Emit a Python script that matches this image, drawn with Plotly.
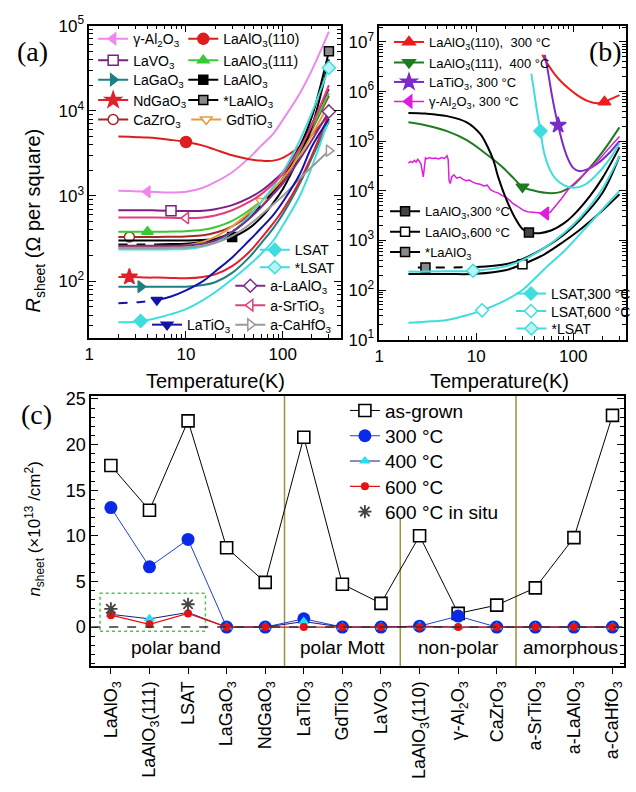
import plotly.graph_objects as go

W, H = 636, 792
SANS = "Liberation Sans"
SERIF = "Liberation Serif"

# ---------------- panel (a): as-grown samples, R_sheet(T) ----------------
T_A = [2, 2.6, 3.4, 4, 5, 7, 10, 15, 20, 30, 45, 60, 80, 100, 150, 200, 300]

R_gAl2O3 = [1150, 1140, 1130, 1120, 1110, 1100, 1120, 1250, 1450, 1900, 2800, 3900, 5400, 7800, 16000, 30000, 85000]
R_LAO110 = [5000, 4950, 4900, 4850, 4750, 4550, 4300, 3900, 3500, 3000, 2700, 2600, 2600, 2800, 3800, 5200, 9000]
R_LaVO3 = [680, 680, 680, 680, 675, 670, 665, 670, 700, 780, 950, 1150, 1500, 1900, 3800, 7000, 18000]
R_LAO111 = [380, 380, 380, 380, 380, 382, 385, 400, 430, 510, 680, 880, 1200, 1600, 3300, 6200, 16000]
R_LaGaO3 = [86, 86, 86, 86, 86, 86, 86, 90, 97, 125, 190, 280, 420, 610, 1400, 2800, 7500]
R_LAO = [300, 300, 300, 300, 300, 300, 300, 305, 310, 330, 420, 560, 830, 1200, 3000, 6500, 40000]
R_NdGaO3 = [112, 112, 111, 110, 110, 109, 108, 112, 120, 150, 220, 320, 480, 680, 1500, 3000, 9000]
R_LAOstar = [270, 270, 270, 270, 270, 272, 275, 290, 310, 380, 550, 780, 1150, 1600, 3800, 8500, 50000]
R_CaZrO3 = [330, 330, 330, 330, 330, 332, 335, 345, 370, 440, 600, 800, 1100, 1500, 3200, 6000, 15000]
R_GdTiO3 = [255, 255, 255, 255, 255, 258, 262, 290, 330, 440, 640, 870, 1200, 1600, 3000, 5200, 12000]
R_LSAT = [33, 33, 34, 35, 37, 41, 47, 60, 74, 105, 155, 210, 300, 450, 1000, 2200, 8000]
R_LSATstar = [235, 235, 235, 235, 235, 236, 238, 255, 285, 380, 580, 850, 1300, 1900, 4500, 9500, 32000]
R_aLAO = [260, 260, 260, 260, 260, 260, 262, 275, 300, 380, 540, 740, 1050, 1400, 2700, 4500, 9800]
R_aSTO = [560, 560, 560, 560, 558, 555, 550, 560, 590, 680, 850, 1050, 1400, 1800, 3600, 6800, 20000]
R_LaTiO3 = [55, 56, 57, 58, 60, 66, 78, 100, 130, 190, 300, 420, 600, 850, 1800, 3800, 8000]
R_aCaHfO3 = [245, 245, 245, 245, 245, 246, 248, 260, 280, 340, 460, 600, 800, 1000, 1600, 2200, 3400]

# ---------------- panel (b): annealed samples ----------------
T_b_LAO110 = [48, 52, 58, 65, 75, 90, 110, 140, 180, 210, 260, 300]
R_b_LAO110 = [5.5e6, 4.2e6, 3.0e6, 2.2e6, 1.6e6, 1.15e6, 8.5e5, 6.5e5, 5.8e5, 6.2e5, 7.5e5, 8.5e5]

T_b_LAO111 = [2, 3, 5, 8, 12, 18, 25, 30, 40, 55, 75, 100, 150, 200, 300]
R_b_LAO111 = [2.4e5, 2.1e5, 1.6e5, 1.05e5, 6.0e4, 3.2e4, 1.7e4, 1.2e4, 1.0e4, 9.0e3, 9.5e3, 1.3e4, 3.0e4, 6.0e4, 1.9e5]

T_b_LaTiO3 = [51, 55, 60, 65, 70, 78, 88, 100, 115, 140, 180, 240, 300]
R_b_LaTiO3 = [5.5e6, 2.5e6, 9e5, 4e5, 2.1e5, 9e4, 4.5e4, 2.9e4, 2.5e4, 2.7e4, 3.6e4, 6.0e4, 1.0e5]

T_b_gAl = [2.0, 2.1, 2.2, 2.3, 2.4, 2.5, 2.6, 2.7, 2.8, 2.85, 2.9, 3.0, 3.1, 3.3, 3.5, 3.8, 4.1, 4.4,
           4.7, 5.0, 5.15, 5.25, 5.4, 5.6, 5.9, 6.3, 6.8, 7.3, 7.9, 8.5, 9.2, 10, 11, 12, 13, 14, 15.5,
           17, 18.5, 20, 22, 24, 26, 28, 31, 34, 38, 42, 47, 52, 58, 66, 76, 90, 110, 140, 180, 230, 300]
R_b_gAl = [3.6e4, 3.9e4, 3.7e4, 4.1e4, 3.8e4, 4.3e4, 3.9e4, 3.4e4, 2.3e4, 1.9e4, 2.6e4, 4.6e4, 4.4e4,
           4.7e4, 4.5e4, 4.6e4, 4.4e4, 4.7e4, 4.5e4, 5.1e4, 4.2e4, 1.6e4, 1.4e4, 1.9e4, 2.1e4, 1.8e4,
           1.9e4, 1.7e4, 1.6e4, 1.65e4, 1.5e4, 1.4e4, 1.35e4, 1.25e4, 1.3e4, 1.05e4, 9.5e3, 9.0e3,
           8.0e3, 7.6e3, 6.5e3, 5.5e3, 5.0e3, 4.6e3, 4.0e3, 3.8e3, 3.7e3, 3.6e3, 3.5e3, 3.5e3, 3.7e3,
           5.0e3, 7.0e3, 1.1e4, 1.6e4, 2.5e4, 4.0e4, 7.0e4, 1.25e5]

T_b_LAO300 = [2, 3, 5, 8, 11, 13, 15, 17, 20, 25, 30, 35, 45, 60, 80, 100, 150, 200, 300]
R_b_LAO300 = [3.7e5, 3.6e5, 3.2e5, 2.4e5, 1.4e5, 8.0e4, 4.2e4, 1.8e4, 7.5e3, 2.9e3, 1.7e3, 1.45e3,
              1.4e3, 1.6e3, 2.2e3, 3.2e3, 8.0e3, 1.8e4, 7.5e4]

T_b_LAO600 = [2, 3, 5, 10, 20, 30, 50, 80, 120, 200, 300]
R_b_LAO600 = [210, 210, 210, 212, 250, 330, 520, 950, 1700, 4000, 8500]

T_b_LAOstar = [2.5, 3, 5, 10, 20, 30, 50, 80, 120, 200, 300]
R_b_LAOstar = [285, 285, 285, 290, 330, 420, 700, 1300, 2700, 9000, 50000]

T_b_LSAT300 = [37, 39, 42, 46, 50, 56, 65, 80, 100, 130, 170, 230, 300]
R_b_LSAT300 = [2.3e6, 1.2e6, 4.5e5, 1.6e5, 6e4, 3.0e4, 1.8e4, 1.3e4, 1.15e4, 1.3e4, 2.0e4, 4.0e4, 9.0e4]

T_b_LSAT600 = [2, 3, 5, 8, 11.5, 20, 30, 50, 80, 120, 200, 300]
R_b_LSAT600 = [22, 23, 25, 31, 39, 62, 100, 260, 600, 1400, 4200, 10000]

T_b_LSATstar = [2, 3, 5, 9.3, 20, 30, 50, 80, 120, 200, 300]
R_b_LSATstar = [235, 235, 238, 245, 300, 400, 700, 1400, 3000, 11000, 50000]

# ---------------- panel (c): sheet carrier density ----------------
samples = ["LaAlO<sub>3</sub>", "LaAlO<sub>3</sub>(111)", "LSAT", "LaGaO<sub>3</sub>", "NdGaO<sub>3</sub>",
           "LaTiO<sub>3</sub>", "GdTiO<sub>3</sub>", "LaVO<sub>3</sub>", "LaAlO<sub>3</sub>(110)",
           "γ-Al<sub>2</sub>O<sub>3</sub>", "CaZrO<sub>3</sub>", "a-SrTiO<sub>3</sub>", "a-LaAlO<sub>3</sub>",
           "a-CaHfO<sub>3</sub>"]
n_asgrown = [17.7, 12.8, 22.6, 8.7, 4.9, 20.8, 4.7, 2.6, 10.0, 1.5, 2.4, 4.3, 9.8, 23.2]
n_300C = [13.1, 6.6, 9.6, 0, 0, 0.9, 0, 0, 0.1, 1.2, 0, 0, 0, 0]
n_400C = [1.4, 0.9, 1.6, 0, 0, 0.6, 0, 0, 0.1, 0, 0, 0, 0, 0]
n_600C = [1.3, 0.3, 1.5, 0, 0, 0, 0, 0, 0, 0, 0, 0, 0, 0]
n_600C_insitu = [2.0, None, 2.5, None, None, None, None, None, None, None, None, None, None, None]
groups = ["polar band", "polar Mott", "non-polar", "amorphous"]
group_centers = [2.7, 7.0, 10.0, 12.9]
group_bounds = [5.5, 8.5, 11.5]

xc = list(range(1, len(samples) + 1))

fig = go.Figure()

# every legend entry gets its own small legend box: (left of key line px, row centre px, font size)
legend_boxes = []


def new_legend(sx, row_y, size):
    legend_boxes.append((sx, row_y, size))
    n = len(legend_boxes)
    return "legend" if n == 1 else "legend%d" % n


def add_curve(x, y, name, color, symbol, fill, mark_idx, leg, xa, ya,
              dash_to=None, width=2, msize=10, shape="spline", mline=1.5):
    if dash_to is not None:
        fig.add_trace(go.Scatter(x=x[:dash_to + 1], y=y[:dash_to + 1], mode="lines",
                                 line=dict(color=color, width=width, dash="dash", shape=shape),
                                 xaxis=xa, yaxis=ya, showlegend=False, hoverinfo="skip"))
        xs, ys = x[dash_to:], y[dash_to:]
    else:
        xs, ys = x, y
    fig.add_trace(go.Scatter(x=xs, y=ys, mode="lines",
                             line=dict(color=color, width=width, shape=shape),
                             xaxis=xa, yaxis=ya, showlegend=False, hoverinfo="skip"))
    fig.add_trace(go.Scatter(x=[x[mark_idx]], y=[y[mark_idx]], mode="lines+markers", name=name,
                             legend=new_legend(*leg), xaxis=xa, yaxis=ya,
                             line=dict(color=color, width=width),
                             marker=dict(symbol=symbol, size=msize, color=fill,
                                         line=dict(color=color, width=mline))))


CYAN = "#3FDDDD"
LA = 14   # legend font in panel (a)
LB = 13   # legend font in panel (b)

# panel (a) curves, first legend column
add_curve(T_A, R_gAl2O3, "γ-Al<sub>2</sub>O<sub>3</sub>", "#EE88EE", "triangle-left", "#EE88EE", 3, (95, 28, LA), "x", "y")
add_curve(T_A, R_LaVO3, "LaVO<sub>3</sub>", "#7E1E84", "square", "white", 5, (95, 50, LA), "x", "y")
add_curve(T_A, R_LaGaO3, "LaGaO<sub>3</sub>", "#1E8080", "triangle-right", "#1E8080", 2, (95, 70, LA), "x", "y")
add_curve(T_A, R_NdGaO3, "NdGaO<sub>3</sub>", "#E0202A", "star", "#E0202A", 1, (95, 91, LA), "x", "y", msize=12)
add_curve(T_A, R_CaZrO3, "CaZrO<sub>3</sub>", "#A02828", "circle", "white", 1, (95, 111, LA), "x", "y")
# second legend column
add_curve(T_A, R_LAO110, "LaAlO<sub>3</sub>(110)", "#DD1E1E", "circle", "#DD1E1E", 6, (187, 28, LA), "x", "y", msize=11)
add_curve(T_A, R_LAO111, "LaAlO<sub>3</sub>(111)", "#33CC33", "triangle-up", "#33CC33", 3, (187, 50, LA), "x", "y")
add_curve(T_A, R_LAO, "LaAlO<sub>3</sub>", "black", "square", "black", 9, (187, 70, LA), "x", "y", msize=9)
add_curve(T_A, R_LAOstar, "*LaAlO<sub>3</sub>", "black", "square", "#8A8A8A", 16, (187, 91, LA), "x", "y", dash_to=4, msize=9)
add_curve(T_A, R_GdTiO3, "GdTiO<sub>3</sub>", "#E89A3C", "triangle-down", "white", 11, (190, 111, LA), "x", "y")
# lower right entries
add_curve(T_A, R_LSAT, "LSAT", CYAN, "diamond", CYAN, 2, (260, 245, LA), "x", "y")
add_curve(T_A, R_LSATstar, "*LSAT", CYAN, "diamond", "#B8F4F4", 16, (260, 263, LA), "x", "y")
add_curve(T_A, R_aLAO, "a-LaAlO<sub>3</sub>", "#7B2C8C", "diamond", "white", 16, (235, 282, LA), "x", "y")
add_curve(T_A, R_aSTO, "a-SrTiO<sub>3</sub>", "#E0407A", "triangle-left", "white", 6, (235, 302, LA), "x", "y")
add_curve(T_A, R_aCaHfO3, "a-CaHfO<sub>3</sub>", "#9A9A9A", "triangle-right", "white", 16, (235, 322, LA), "x", "y")
add_curve(T_A, R_LaTiO3, "LaTiO<sub>3</sub>", "#1414A8", "triangle-down", "#1414A8", 4, (150, 322, LA), "x", "y", dash_to=4)

# panel (b) curves
add_curve(T_b_LAO110, R_b_LAO110, "LaAlO<sub>3</sub>(110),  300 °C", "#EE1C1C", "triangle-up", "#EE1C1C", 9, (397, 31, LB), "x2", "y2", msize=11)
add_curve(T_b_LAO111, R_b_LAO111, "LaAlO<sub>3</sub>(111),  400 °C", "#1E7B1E", "triangle-down", "#1E7B1E", 7, (397, 52, LB), "x2", "y2", msize=11)
add_curve(T_b_LaTiO3, R_b_LaTiO3, "LaTiO<sub>3</sub>, 300 °C", "#7A2BC8", "star", "#7A2BC8", 4, (397, 72, LB), "x2", "y2", msize=12)
add_curve(T_b_gAl, R_b_gAl, "γ-Al<sub>2</sub>O<sub>3</sub>, 300 °C", "#E01CE0", "triangle-left", "#E01CE0", 49, (397, 92, LB), "x2", "y2", shape="linear", msize=11, width=1.5)
add_curve(T_b_LAO300, R_b_LAO300, "LaAlO<sub>3</sub>,300 °C", "black", "square", "#444444", 11, (393, 205, LB), "x2", "y2", msize=9)
add_curve(T_b_LAO600, R_b_LAO600, "LaAlO<sub>3</sub>,600 °C", "black", "square", "white", 5, (393, 226, LB), "x2", "y2", msize=9)
add_curve(T_b_LAOstar, R_b_LAOstar, "*LaAlO<sub>3</sub>", "black", "square", "#8A8A8A", 1, (393, 247, LB), "x2", "y2", dash_to=3, msize=9)
add_curve(T_b_LSAT300, R_b_LSAT300, "LSAT,300 °C", CYAN, "diamond", CYAN, 3, (522, 290, 14), "x2", "y2")
add_curve(T_b_LSAT600, R_b_LSAT600, "LSAT,600 °C", CYAN, "diamond", "white", 4, (522, 308, 14), "x2", "y2")
add_curve(T_b_LSATstar, R_b_LSATstar, "*LSAT", CYAN, "diamond", "#B8F4F4", 3, (522, 326, 14), "x2", "y2")

# panel (c) series
LC = 19
fig.add_trace(go.Scatter(x=xc, y=n_asgrown, mode="lines+markers", name="as-grown", legend=new_legend(352, 410, LC),
                         xaxis="x3", yaxis="y3", line=dict(color="black", width=1),
                         marker=dict(symbol="square", size=12, color="white", line=dict(color="black", width=1.6))))
fig.add_trace(go.Scatter(x=xc, y=n_300C, mode="lines+markers", name="300 °C", legend=new_legend(352, 436, LC),
                         xaxis="x3", yaxis="y3", line=dict(color="#2040D0", width=1),
                         marker=dict(symbol="circle", size=13, color="#0A2AE8")))
fig.add_trace(go.Scatter(x=xc, y=n_400C, mode="lines+markers", name="400 °C", legend=new_legend(352, 462, LC),
                         xaxis="x3", yaxis="y3", line=dict(color="#1A1A80", width=1),
                         marker=dict(symbol="triangle-up", size=10, color="#22E0F0")))
fig.add_trace(go.Scatter(x=xc, y=n_600C, mode="lines+markers", name="600 °C", legend=new_legend(352, 488, LC),
                         xaxis="x3", yaxis="y3", line=dict(color="#E81010", width=1.2),
                         marker=dict(symbol="circle", size=8, color="#E81010")))
fig.add_trace(go.Scatter(x=xc, y=n_600C_insitu, mode="markers", name="600 °C in situ", legend=new_legend(352, 514, LC),
                         xaxis="x3", yaxis="y3",
                         marker=dict(symbol="asterisk-open", size=11, color="#444444",
                                     line=dict(color="#444444", width=1.8))))


def px(x):
    return x / W


def py(y):
    return 1 - y / H


def log_minor(lo, hi):
    vals = []
    for d in range(lo, hi):
        for k in range(2, 10):
            vals.append(k * 10 ** d)
    return vals


tickfont = dict(family=SANS, size=17, color="black")
base_axis = dict(showline=True, linecolor="black", linewidth=1.5, mirror="ticks", ticks="inside",
                 ticklen=7, tickwidth=1.3, tickcolor="black", showgrid=False, zeroline=False,
                 tickfont=tickfont)

xlog_ticks = dict(type="log", tickmode="array", tickvals=[1, 10, 100], ticktext=["1", "10", "100"],
                  minor=dict(ticks="inside", ticklen=4, tickcolor="black", tickmode="array",
                             tickvals=log_minor(0, 3)))


def ylog_ticks(lo, hi):
    return dict(type="log", tickmode="array", tickvals=[10 ** k for k in range(lo, hi + 1)],
                ticktext=["10<sup>%d</sup>" % k for k in range(lo, hi + 1)],
                minor=dict(ticks="inside", ticklen=4, tickcolor="black", tickmode="array",
                           tickvals=log_minor(lo - 1, hi + 1)))


fig.update_layout(
    width=W, height=H, margin=dict(l=0, r=0, t=0, b=0),
    paper_bgcolor="white", plot_bgcolor="white",
    font=dict(family=SANS, color="black"),
    xaxis=dict(**base_axis, **xlog_ticks, domain=[px(86), px(343)], range=[0, 2.602], anchor="y"),
    yaxis=dict(**base_axis, **ylog_ticks(2, 5), domain=[py(335), py(14)], range=[1.336, 5.0], anchor="x"),
    xaxis2=dict(**base_axis, **xlog_ticks, domain=[px(382), px(634)], range=[0, 2.545], anchor="y2"),
    yaxis2=dict(**base_axis, **ylog_ticks(1, 7), domain=[py(337), py(14)], range=[1.0, 7.33], anchor="x2"),
    xaxis3=dict(showline=True, linecolor="black", linewidth=1.5, mirror=True, ticks="outside",
                ticklen=6, tickwidth=1.3, tickcolor="black", showgrid=False, zeroline=False,
                tickmode="array", tickvals=xc, ticktext=samples, tickangle=-90,
                tickfont=dict(family=SANS, size=18, color="black"),
                domain=[px(88), px(632)], range=[0.49, 14.3], anchor="y3"),
    yaxis3=dict(**{**base_axis, "tickfont": dict(family=SANS, size=18, color="black")},
                domain=[py(673), py(395)], range=[-4.3, 25.32], anchor="x3",
                tickmode="array", tickvals=[0, 5, 10, 15, 20, 25],
                minor=dict(ticks="inside", ticklen=4, tickcolor="black", dtick=1, tick0=0)),
)

legend_layout = {}
for i, (sx, row_y, size) in enumerate(legend_boxes):
    key = "legend" if i == 0 else "legend%d" % (i + 1)
    legend_layout[key] = dict(x=px(sx - 5), y=py(row_y), xanchor="left", yanchor="middle",
                              bgcolor="rgba(0,0,0,0)", borderwidth=0,
                              font=dict(family=SANS, size=size, color="black"),
                              tracegroupgap=0, itemwidth=30)
fig.update_layout(**legend_layout)

# reference line at zero, group separators and highlighted box in panel (c)
fig.add_shape(type="line", xref="x3", yref="y3", x0=0.49, x1=14.3, y0=0, y1=0,
              line=dict(color="#333333", width=1.5, dash="dash"), layer="above")
for i, b in enumerate(group_bounds):
    top = 25.32 if i != 1 else 11.9
    fig.add_shape(type="line", xref="x3", yref="y3", x0=b, x1=b, y0=-4.3, y1=top,
                  line=dict(color="#9A9240", width=1.5), layer="below")
fig.add_shape(type="rect", xref="x3", yref="y3", x0=0.72, x1=3.45, y0=-0.45, y1=3.7,
              line=dict(color="#44CC44", width=1.5, dash="dot"), layer="below")

ann = []
for g, c in zip(groups, group_centers):
    ann.append(dict(x=c, y=-2.25, xref="x3", yref="y3", text=g, showarrow=False,
                    xanchor="center", yanchor="middle",
                    font=dict(family=SANS, size=19, color="black")))
page_text = [
    (28, 41, "(a)", SERIF, 28, 0),
    (613, 41, "(b)", SERIF, 28, 0),
    (32, 414, "(c)", SERIF, 28, 0),
    (215, 380, "Temperature(K)", SANS, 20, 0),
    (505, 380, "Temperature(K)", SANS, 20, 0),
    (30, 214, "<i>R</i><sub>sheet</sub> (Ω per square)", SANS, 20, -90),
    (30, 532, "<i>n</i><sub>sheet</sub> (×10<sup>13</sup> /cm<sup>2</sup>)", SANS, 17, -90),
]
for x, y, t, fam, size, ang in page_text:
    ann.append(dict(x=px(x), y=py(y), xref="paper", yref="paper", text=t, showarrow=False,
                    xanchor="center", yanchor="middle", textangle=ang,
                    font=dict(family=fam, size=size, color="black")))
fig.update_layout(annotations=ann)

fig.write_html("out.html")
